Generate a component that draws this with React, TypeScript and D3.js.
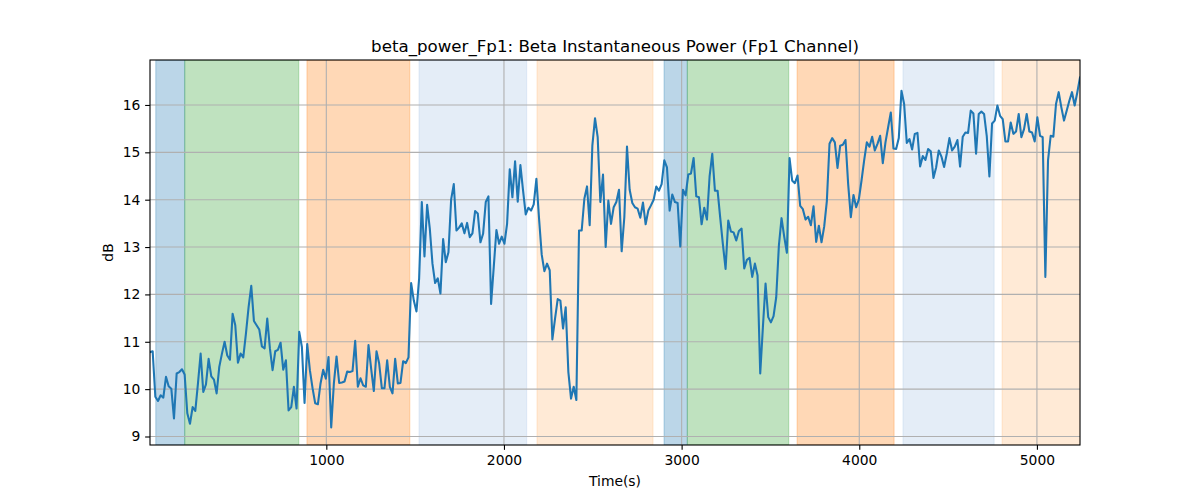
import React, { useRef, useEffect } from 'react';
import * as d3 from 'd3';

// sample grid: one value every 15 s, centred on the window
const t0 = 7.5;
const dt = 15;

const betaPower = [
  10.78, 10.80, 9.84, 9.75, 9.87, 9.82, 10.26, 10.06, 10.01, 9.38,
  10.33, 10.36, 10.42, 10.31, 9.49, 9.27, 9.62, 9.54, 10.12, 10.75,
  9.94, 10.10, 10.64, 10.27, 10.20, 9.91, 10.47, 10.75, 11.00, 10.71,
  10.62, 11.59, 11.35, 10.56, 10.75, 10.67, 11.17, 11.73, 12.18, 11.44,
  11.35, 11.26, 10.90, 10.86, 11.49, 10.86, 10.40, 10.80, 10.83, 10.98,
  10.41, 10.61, 9.55, 9.62, 10.05, 9.59, 11.21, 10.89, 9.71, 10.95,
  10.40, 10.02, 9.70, 9.68, 10.12, 10.41, 10.22, 10.68, 9.19, 10.12,
  10.69, 10.13, 10.14, 10.16, 10.37, 10.36, 10.38, 11.02, 10.05, 10.23,
  10.08, 10.05, 10.93, 10.43, 9.96, 10.80, 10.54, 10.02, 10.02, 10.61,
  10.05, 9.91, 10.64, 10.12, 10.13, 10.59, 10.55, 10.67, 12.24, 11.87,
  11.64, 12.34, 13.95, 12.80, 13.89, 13.39, 12.65, 12.24, 12.34, 12.02,
  13.17, 12.68, 12.89, 14.00, 14.33, 13.35, 13.41, 13.50, 13.29, 13.51,
  13.21, 13.29, 13.76, 13.71, 13.10, 13.28, 13.95, 14.07, 11.80, 12.58,
  13.36, 13.07, 13.22, 13.07, 13.49, 14.64, 14.05, 14.81, 13.96, 14.73,
  14.19, 13.69, 13.83, 13.77, 13.90, 14.44, 13.60, 12.84, 12.49, 12.65,
  12.51, 11.05, 11.49, 11.90, 11.87, 11.28, 11.73, 10.36, 9.80, 10.05,
  9.77, 13.35, 13.35, 14.02, 14.28, 13.46, 15.14, 15.72, 15.32, 13.95,
  14.53, 13.00, 13.98, 13.49, 13.84, 13.95, 14.21, 12.91, 13.63, 15.12,
  14.21, 13.93, 13.84, 13.81, 13.62, 13.94, 13.48, 13.77, 13.88, 14.00,
  14.28, 14.19, 14.33, 14.83, 14.68, 13.77, 14.11, 13.95, 13.93, 13.01,
  14.21, 14.09, 14.53, 14.55, 14.88, 14.07, 14.05, 13.48, 13.83, 13.58,
  14.49, 14.97, 14.19, 14.19, 13.61, 13.05, 12.54, 13.56, 13.33, 13.31,
  13.14, 13.34, 13.39, 12.55, 12.73, 12.77, 12.37, 12.65, 12.40, 10.33,
  11.31, 12.23, 11.52, 11.41, 11.54, 11.94, 13.03, 13.61, 13.22, 12.88,
  14.88, 14.40, 14.35, 14.51, 13.87, 13.80, 13.58, 13.64, 13.46, 13.86,
  13.11, 13.45, 13.10, 13.43, 13.97, 15.18, 15.30, 15.21, 14.67, 15.14,
  15.16, 15.26, 14.33, 13.63, 14.10, 13.84, 14.00, 14.40, 14.83, 15.21,
  15.12, 15.33, 15.04, 15.18, 15.35, 14.77, 15.21, 15.53, 15.84, 15.08,
  15.07, 15.30, 16.30, 16.02, 15.20, 15.28, 15.06, 15.39, 15.41, 14.70,
  14.92, 14.84, 15.07, 15.02, 14.46, 14.68, 15.04, 14.91, 14.69, 14.97,
  15.30, 15.04, 15.12, 15.26, 14.70, 15.33, 15.42, 15.41, 15.88, 15.82,
  14.97, 15.81, 15.86, 15.81, 15.35, 14.49, 15.61, 15.67, 15.99, 15.77,
  15.70, 15.23, 15.23, 15.63, 15.39, 15.44, 15.81, 15.32, 15.49, 15.81,
  15.44, 15.42, 15.23, 15.74, 15.35, 15.32, 12.37, 14.83, 15.35, 15.33,
  16.02, 16.27, 15.95, 15.67, 15.88, 16.09, 16.27, 15.99, 16.27, 16.58,
];

// shaded stage spans (seconds) and their kind
const spanStarts = [40, 203, 891, 1522, 2186, 2901, 3032, 3650, 4246, 4804];
const spanEnds = [203, 845, 1470, 2128, 2839, 3032, 3603, 4196, 4759, 5400];
const spanKinds = ['blue', 'green', 'orange', 'lightblue', 'lightorange', 'blue', 'green', 'orange', 'lightblue', 'lightorange'];

const xTicks = [1000, 2000, 3000, 4000, 5000];
const yTicks = [9, 10, 11, 12, 13, 14, 15, 16];

const spanColors: Record<string, string> = {
  blue: '#1f77b4',
  green: '#2ca02c',
  orange: '#ff7f0e',
  lightblue: '#aec7e8',
  lightorange: '#ffbb78',
};
const spanAlpha: Record<string, number> = {
  blue: 0.3,
  green: 0.3,
  orange: 0.3,
  lightblue: 0.33,
  lightorange: 0.3,
};

export default function App() {
  const width = 1200;
  const height = 500;
  const svgRef = useRef<SVGSVGElement>(null);

  useEffect(() => {
    if (!svgRef.current) return;
    const svg = d3.select(svgRef.current);
    svg.selectAll('*').remove();

    const pt = 100 / 72;
    const margin = { left: 150, right: 120, top: 60, bottom: 55 };
    const x0 = margin.left, x1 = width - margin.right;
    const y0 = height - margin.bottom, y1 = margin.top;

    const times = betaPower.map((_, i) => t0 + i * dt);
    const x = d3.scaleLinear().domain([times[0], times[times.length - 1]]).range([x0, x1]);
    const [lo, hi] = d3.extent(betaPower) as [number, number];
    const pad = (hi - lo) * 0.05;
    const y = d3.scaleLinear().domain([lo - pad, hi + pad]).range([y0, y1]);

    const font = 'DejaVu Sans, sans-serif';

    svg.append('defs').append('clipPath').attr('id', 'plot-clip')
      .append('rect').attr('x', x0).attr('y', y1).attr('width', x1 - x0).attr('height', y0 - y1);

    const plot = svg.append('g').attr('clip-path', 'url(#plot-clip)');

    // spans
    plot.selectAll('rect.span')
      .data(spanStarts.map((s, i) => ({ s, e: spanEnds[i], k: spanKinds[i] })))
      .enter()
      .append('rect')
      .attr('class', 'span')
      .attr('x', d => x(d.s))
      .attr('width', d => x(d.e) - x(d.s))
      .attr('y', y1)
      .attr('height', y0 - y1)
      .attr('fill', d => spanColors[d.k])
      .attr('fill-opacity', d => spanAlpha[d.k])
      .attr('stroke', d => spanColors[d.k])
      .attr('stroke-opacity', d => spanAlpha[d.k])
      .attr('stroke-width', 1);

    // grid
    plot.selectAll('line.gx').data(xTicks).enter().append('line')
      .attr('x1', d => x(d)).attr('x2', d => x(d)).attr('y1', y1).attr('y2', y0)
      .attr('stroke', '#b0b0b0').attr('stroke-width', 0.8 * pt);
    plot.selectAll('line.gy').data(yTicks).enter().append('line')
      .attr('y1', d => y(d)).attr('y2', d => y(d)).attr('x1', x0).attr('x2', x1)
      .attr('stroke', '#b0b0b0').attr('stroke-width', 0.8 * pt);

    // series
    const line = d3.line<number>()
      .x((_, i) => x(times[i]))
      .y(d => y(d));
    plot.append('path')
      .datum(betaPower)
      .attr('d', line)
      .attr('fill', 'none')
      .attr('stroke', '#1f77b4')
      .attr('stroke-width', 1.5 * pt)
      .attr('stroke-linejoin', 'round')
      .attr('stroke-linecap', 'square');

    // spines
    svg.append('rect')
      .attr('x', x0).attr('y', y1).attr('width', x1 - x0).attr('height', y0 - y1)
      .attr('fill', 'none').attr('stroke', 'black').attr('stroke-width', 0.8 * pt);

    // axes
    const xAxis = d3.axisBottom(x).tickValues(xTicks).tickSize(3.5 * pt).tickPadding(3.5 * pt).tickFormat(d3.format('d'));
    const gx = svg.append('g').attr('transform', `translate(0,${y0})`).call(xAxis);
    const yAxis = d3.axisLeft(y).tickValues(yTicks).tickSize(3.5 * pt).tickPadding(3.5 * pt).tickFormat(d3.format('d'));
    const gy = svg.append('g').attr('transform', `translate(${x0},0)`).call(yAxis);
    [gx, gy].forEach(g => {
      g.select('.domain').remove();
      g.selectAll('line').attr('stroke', 'black').attr('stroke-width', 0.8 * pt);
      g.selectAll('text').attr('font-family', font).attr('font-size', 10 * pt).attr('fill', 'black');
    });

    svg.append('text')
      .attr('x', (x0 + x1) / 2).attr('y', 52)
      .attr('text-anchor', 'middle')
      .attr('font-family', font).attr('font-size', 12 * pt)
      .text('beta_power_Fp1: Beta Instantaneous Power (Fp1 Channel)');

    svg.append('text')
      .attr('x', (x0 + x1) / 2).attr('y', 486)
      .attr('text-anchor', 'middle')
      .attr('font-family', font).attr('font-size', 10 * pt)
      .text('Time(s)');

    svg.append('text')
      .attr('transform', `translate(113,${(y0 + y1) / 2}) rotate(-90)`)
      .attr('text-anchor', 'middle')
      .attr('font-family', font).attr('font-size', 10 * pt)
      .text('dB');
  }, []);

  return (
    <svg ref={svgRef} width={width} height={height}
      style={{ position: 'absolute', left: 0, top: 0, background: 'white' }} />
  );
}
